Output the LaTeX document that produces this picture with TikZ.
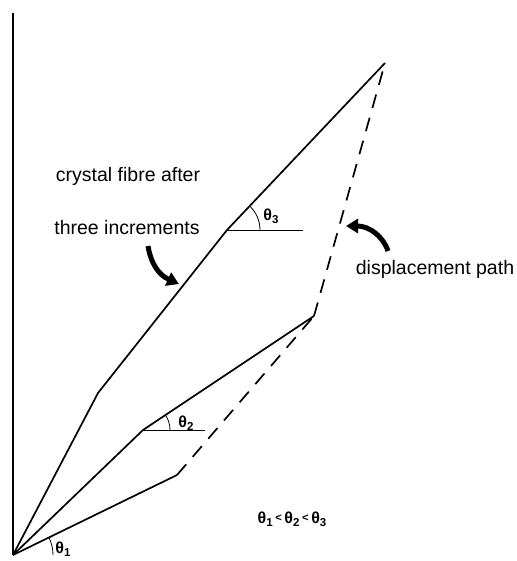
\documentclass[tikz,border=0pt]{standalone}
\usepackage{fontspec}
\setmainfont{Liberation Sans}
\usetikzlibrary{arrows.meta}
\tikzset{
  fibre/.style={line width=1.7pt, line join=round},
  dpath/.style={line width=1.7pt, dash pattern=on 14pt off 10pt},
  refline/.style={line width=1pt},
  angarc/.style={line width=0.8pt},
  lbl/.style={font=\fontsize{19.5}{22}\selectfont, inner sep=0pt},
  thl/.style={font=\fontsize{16}{18}\selectfont\bfseries, inner sep=0pt},
  fat/.style={line width=5pt, -{Triangle[length=12pt,width=14pt]}}
}
\newcommand\thsub[1]{θ\raisebox{-0.35ex}{\fontsize{11.5}{12}\selectfont #1}}
\begin{document}
\begin{tikzpicture}[x=1pt,y=-1pt]
\useasboundingbox (0,0) rectangle (516,561);
% points
\coordinate (O) at (13,555);
\coordinate (T) at (13,13);
\coordinate (A1) at (177,475);
\coordinate (B1) at (143,430);
\coordinate (B2) at (314,316);
\coordinate (C1) at (98,393);
\coordinate (C2) at (227,230);
\coordinate (C3) at (385,63);
\coordinate (H2) at (205,430);
\coordinate (H3) at (303,230);
% axis
\draw[line width=1.1pt] (T) -- (O);
% fibres
\draw[fibre] (O) -- (A1);
\draw[fibre] (O) -- (B1) -- (B2);
\draw[fibre] (O) -- (C1) -- (C2) -- (C3);
% displacement path
\draw[dpath] (A1) -- (B2);
\draw[dpath] (B2) -- (C3);
% reference lines
\draw[refline] (B1) -- (H2);
\draw[refline] (C2) -- (H3);
% angle arcs
\draw[angarc] (53,555) arc[start angle=0, end angle=-26.0, radius=40];
\draw[angarc] (170,430) arc[start angle=0, end angle=-33.7, radius=27];
\draw[angarc] (260,230) arc[start angle=0, end angle=-46.8, radius=33];
% angle labels
\node[thl] (t1) at (63,549) {\thsub{1}};
\node[thl] (t2) at (186,423) {\thsub{2}};
\node[thl] (t3) at (271,216) {\thsub{3}};
\node[thl] (rel) at (292,519) {\thsub{1}\,\raisebox{0.2ex}{\fontsize{11}{11}\selectfont<}\,\thsub{2}\,\raisebox{0.2ex}{\fontsize{11}{11}\selectfont<}\,\thsub{3}};
% texts
\node[lbl] (l1) at (128,176) {crystal fibre after};
\node[lbl] (l2) at (127,228) {three increments};
\node[lbl] (l3) at (435,269) {displacement path};
% fat arrows
\coordinate (a1s) at (148,246);
\coordinate (a1e) at (179,284);
\draw[fat] (a1s) .. controls (151,264) and (159,275) .. (a1e);
\coordinate (a2s) at (388,251);
\coordinate (a2e) at (346,226);
\draw[fat] (a2s) .. controls (383,236) and (369,226) .. (a2e);
\end{tikzpicture}
\end{document}
